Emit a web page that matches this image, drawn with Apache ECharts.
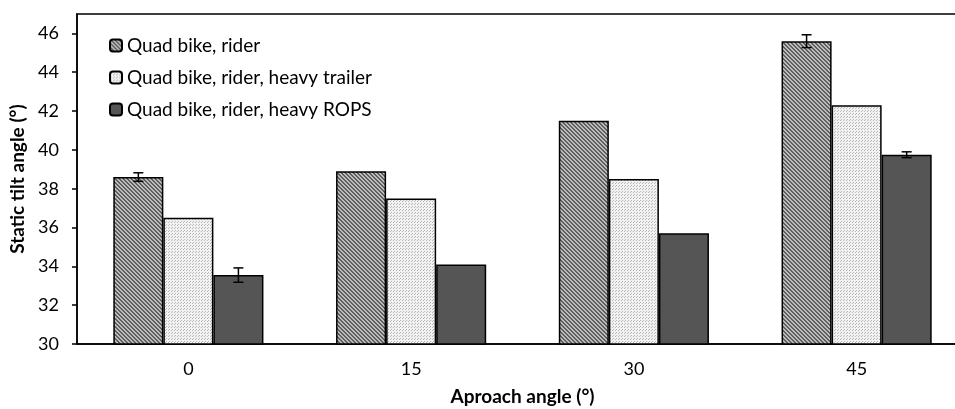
<!DOCTYPE html>
<html>
<head>
<meta charset="utf-8">
<script src="https://cdn.jsdelivr.net/npm/echarts@6/dist/echarts.min.js"></script>
<style>html,body{margin:0;padding:0;background:#fff;}#c{width:955px;height:409px;}</style>
</head>
<body>
<div id="c"></div>
<script>
const categories = ['0', '15', '30', '45'];
const seriesNames = ['Quad bike, rider', 'Quad bike, rider, heavy trailer', 'Quad bike, rider, heavy ROPS'];
const riderValues = [38.6, 38.9, 41.5, 45.6];
const trailerValues = [36.5, 37.5, 38.5, 42.3];
const ropsValues = [33.55, 34.1, 35.7, 39.75];
const riderErrors = [0.22, null, null, 0.33];
const trailerErrors = [null, null, null, null];
const ropsErrors = [0.37, null, null, 0.15];
const yTicks = [30, 32, 34, 36, 38, 40, 42, 44, 46];

function hatchPattern() {
  const c = document.createElement('canvas');
  c.width = 4; c.height = 4;
  const g = c.getContext('2d');
  g.fillStyle = '#bdbdbd'; g.fillRect(0, 0, 4, 4);
  g.fillStyle = '#5e5e5e';
  for (let i = 0; i < 4; i++) { g.fillRect(i, i, 1, 1); g.fillRect((i + 1) % 4, i, 1, 1); }
  return c;
}
function dotPattern() {
  const c = document.createElement('canvas');
  c.width = 3; c.height = 3;
  const g = c.getContext('2d');
  g.fillStyle = '#f2f2f2'; g.fillRect(0, 0, 3, 3);
  g.fillStyle = '#b8b8b8';
  g.fillRect(0, 0, 1, 1);
  g.fillRect(1, 2, 1, 1);
  return c;
}
const fills = [
  { image: hatchPattern(), repeat: 'repeat' },
  { image: dotPattern(), repeat: 'repeat' },
  '#555555'
];
const valueSets = [riderValues, trailerValues, ropsValues];
const errorSets = [riderErrors, trailerErrors, ropsErrors];
const gapPct = 0.326;

const chart = echarts.init(document.getElementById('c'), null, { renderer: 'canvas' });
const FONT = 'Lato';
const series = [];
valueSets.forEach((vals, si) => {
  series.push({
    name: seriesNames[si],
    type: 'bar',
    data: vals,
    barGap: '0%',
    barCategoryGap: (gapPct * 100) + '%',
    itemStyle: { color: fills[si], borderColor: '#000', borderWidth: 1.5 }
  });
});
valueSets.forEach((vals, si) => {
  const data = [];
  vals.forEach((v, i) => { if (errorSets[si][i] != null) data.push([i, v, errorSets[si][i]]); });
  series.push({
    type: 'custom',
    z: 10,
    silent: true,
    renderItem: function (params, api) {
      const ci = api.value(0), v = api.value(1), e = api.value(2);
      const band = api.size([1, 0])[0];
      const bw = band * (1 - gapPct) / 3;
      const off = (si - 1) * bw;
      const top = api.coord([ci, v + e]);
      const bot = api.coord([ci, v - e]);
      const x = top[0] + off;
      const hw = 5;
      const st = { stroke: '#000', lineWidth: 1.5 };
      return { type: 'group', children: [
        { type: 'line', shape: { x1: x, y1: top[1], x2: x, y2: bot[1] }, style: st },
        { type: 'line', shape: { x1: x - hw, y1: top[1], x2: x + hw, y2: top[1] }, style: st },
        { type: 'line', shape: { x1: x - hw, y1: bot[1], x2: x + hw, y2: bot[1] }, style: st }
      ] };
    },
    data: data
  });
});

chart.setOption({
  animation: false,
  backgroundColor: '#fff',
  grid: { left: 77, top: 14, width: 891, height: 330, outerBoundsMode: 'none', containLabel: false, show: true, borderColor: '#000', borderWidth: 1.5, backgroundColor: 'transparent' },
  legend: {
    data: seriesNames,
    orient: 'vertical',
    left: 104,
    top: 31,
    itemWidth: 12,
    itemHeight: 12,
    itemGap: 13,
    textStyle: { fontFamily: FONT, fontSize: 19, color: '#000' }
  },
  xAxis: {
    type: 'category',
    data: categories,
    axisLine: { lineStyle: { color: '#000', width: 1.5 } },
    axisTick: { show: false },
    axisLabel: { fontFamily: FONT, fontSize: 18, color: '#000', margin: 16 },
    name: 'Aproach angle (°)',
    nameLocation: 'middle',
    nameGap: 43,
    nameTextStyle: { fontFamily: FONT, fontSize: 19, fontWeight: 'bold', color: '#000' }
  },
  yAxis: {
    type: 'value',
    min: 30,
    max: 47,
    interval: 2,
    splitLine: { show: false },
    axisLine: { show: true, lineStyle: { color: '#000', width: 1.5 } },
    axisTick: { show: true, length: 5, lineStyle: { color: '#000', width: 1.5 }, customValues: yTicks },
    axisLabel: { fontFamily: FONT, fontSize: 18, color: '#000', margin: 18, customValues: yTicks },
    name: 'Static tilt angle (°)',
    nameLocation: 'middle',
    nameGap: 50,
    nameTextStyle: { fontFamily: FONT, fontSize: 19, fontWeight: 'bold', color: '#000' }
  },
  series: series
});
</script>
</body>
</html>
